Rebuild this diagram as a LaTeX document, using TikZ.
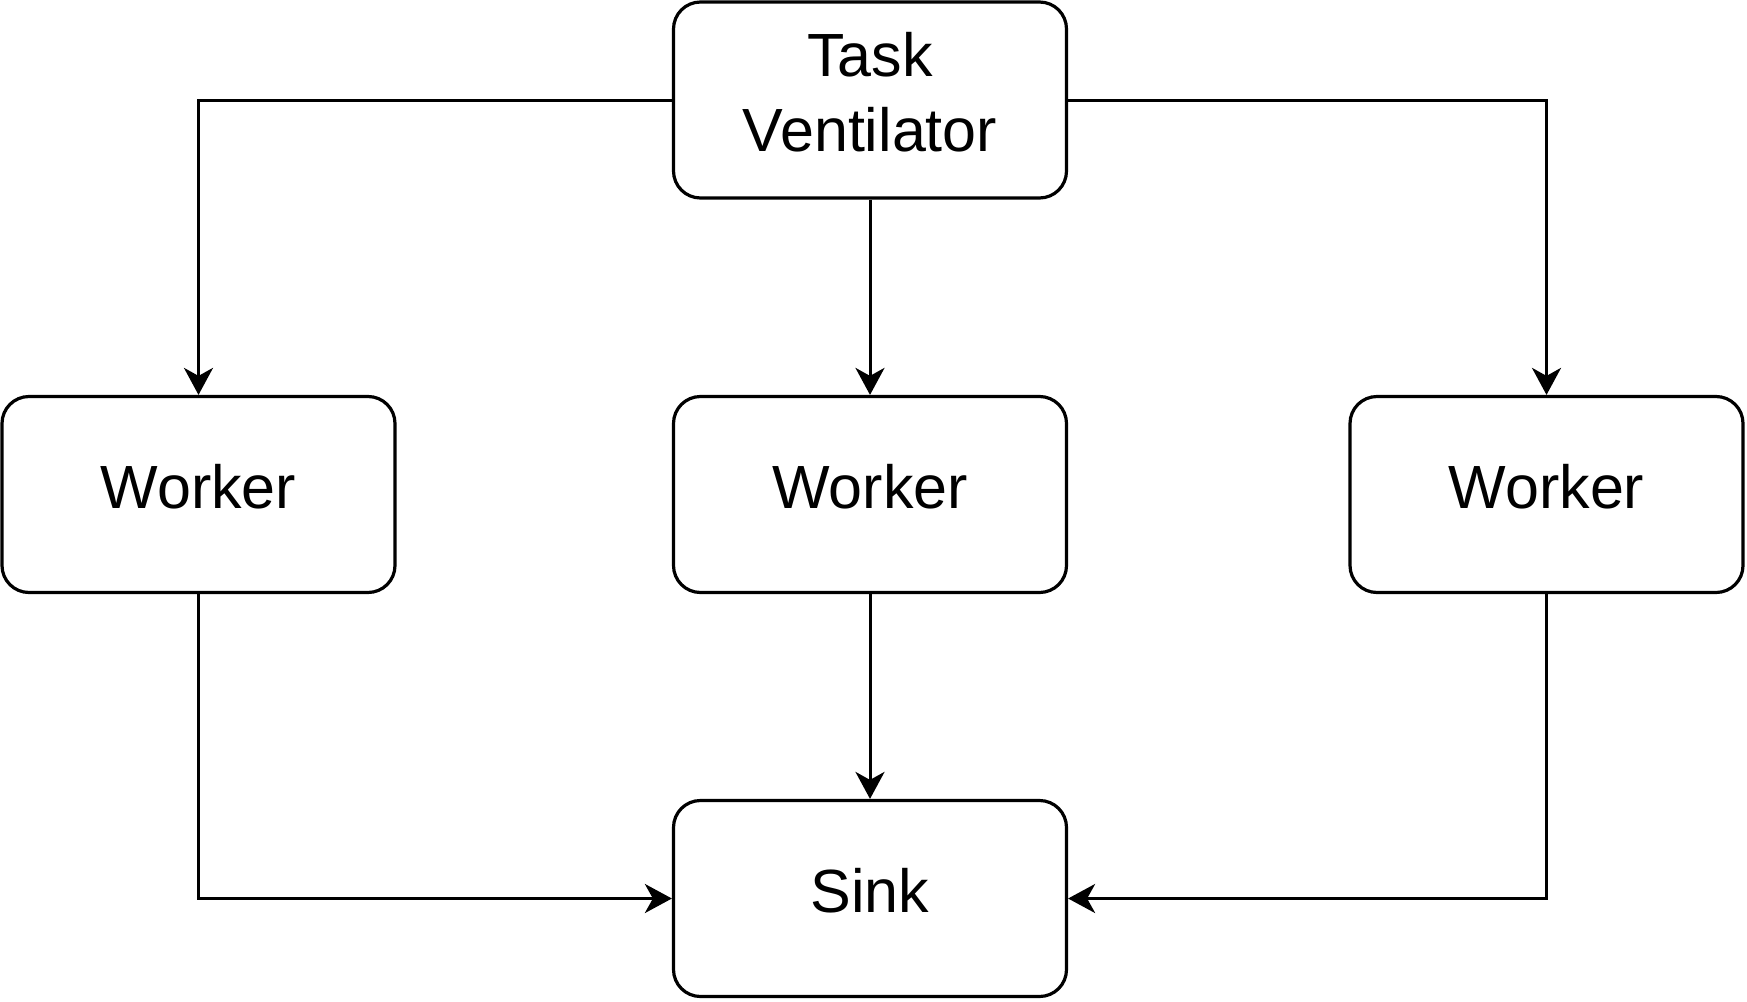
\documentclass[tikz,border=0pt]{standalone}
\usepackage{fontspec}
\setmainfont{Liberation Sans}
\usetikzlibrary{arrows.meta}
\begin{document}
\begin{tikzpicture}[x=1pt,y=-1pt,
  box/.style={draw=black, line width=3.2pt, rounded corners=27pt, fill=white,
    minimum width=393pt, minimum height=196pt, inner sep=0pt, align=center,
    font=\fontsize{61}{75}\selectfont, text depth=17pt},
  conn/.style={draw=black, line width=3pt,
    -{Stealth[length=27pt, width=29pt, inset=8pt]}}
]
\useasboundingbox (0,0) rectangle (1747,1001);
\node[box] (tv) at (870,100) {Task\\Ventilator};
\node[box] (w1) at (198.5,494.5) {Worker};
\node[box] (w2) at (870,494.5) {Worker};
\node[box] (w3) at (1546.5,494.5) {Worker};
\node[box] (sink) at (870,898.5) {Sink};
\draw[conn] (tv.west) -| (w1.north);
\draw[conn] (tv.east) -| (w3.north);
\draw[conn] (tv.south) -- (w2.north);
\draw[conn] (w1.south) |- (sink.west);
\draw[conn] (w2.south) -- (sink.north);
\draw[conn] (w3.south) |- (sink.east);
\end{tikzpicture}
\end{document}
